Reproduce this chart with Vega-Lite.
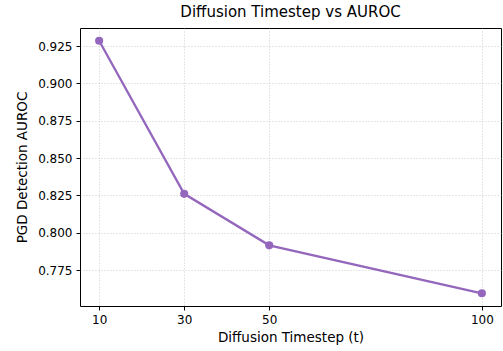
{
  "$schema": "https://vega.github.io/schema/vega-lite/v6.json",
  "autosize": {"type": "none"},
  "width": 421,
  "height": 278,
  "padding": {"left": 80, "top": 28, "right": 2, "bottom": 45},
  "background": "white",
  "title": {
    "text": "Diffusion Timestep vs AUROC",
    "font": "DejaVu Sans",
    "fontSize": 15,
    "fontWeight": "normal",
    "color": "#000000",
    "offset": 8
  },
  "config": {
    "view": {"stroke": "#000000", "strokeWidth": 1},
    "axis": {
      "domain": false,
      "labelFont": "DejaVu Sans",
      "labelFontSize": 12,
      "labelColor": "#000000",
      "titleFont": "DejaVu Sans",
      "titleFontSize": 13.5,
      "titleFontWeight": "normal",
      "titleColor": "#000000",
      "tickColor": "#000000",
      "tickSize": 4,
      "labelPadding": 4,
      "gridColor": "#b0b0b0",
      "gridDash": [1, 2],
      "gridOpacity": 0.8,
      "gridWidth": 0.8
    }
  },
  "data": {
    "values": [
      {"t": 10, "auroc": 0.9286},
      {"t": 30, "auroc": 0.8261},
      {"t": 50, "auroc": 0.7916},
      {"t": 100, "auroc": 0.7595}
    ]
  },
  "encoding": {
    "x": {
      "field": "t",
      "type": "quantitative",
      "title": "Diffusion Timestep (t)",
      "scale": {"domain": [5.5, 104.5], "nice": false, "zero": false},
      "axis": {"values": [10, 30, 50, 100], "titlePadding": 5, "labelFlush": false}
    },
    "y": {
      "field": "auroc",
      "type": "quantitative",
      "title": "PGD Detection AUROC",
      "scale": {"domain": [0.751, 0.9371], "nice": false, "zero": false},
      "axis": {"values": [0.775, 0.8, 0.825, 0.85, 0.875, 0.9, 0.925], "format": ".3f", "titlePadding": 8}
    }
  },
  "layer": [
    {"mark": {"type": "line", "color": "#9467bd", "strokeWidth": 2.3}},
    {"mark": {"type": "point", "filled": true, "color": "#9467bd", "opacity": 1, "size": 66}}
  ]
}
